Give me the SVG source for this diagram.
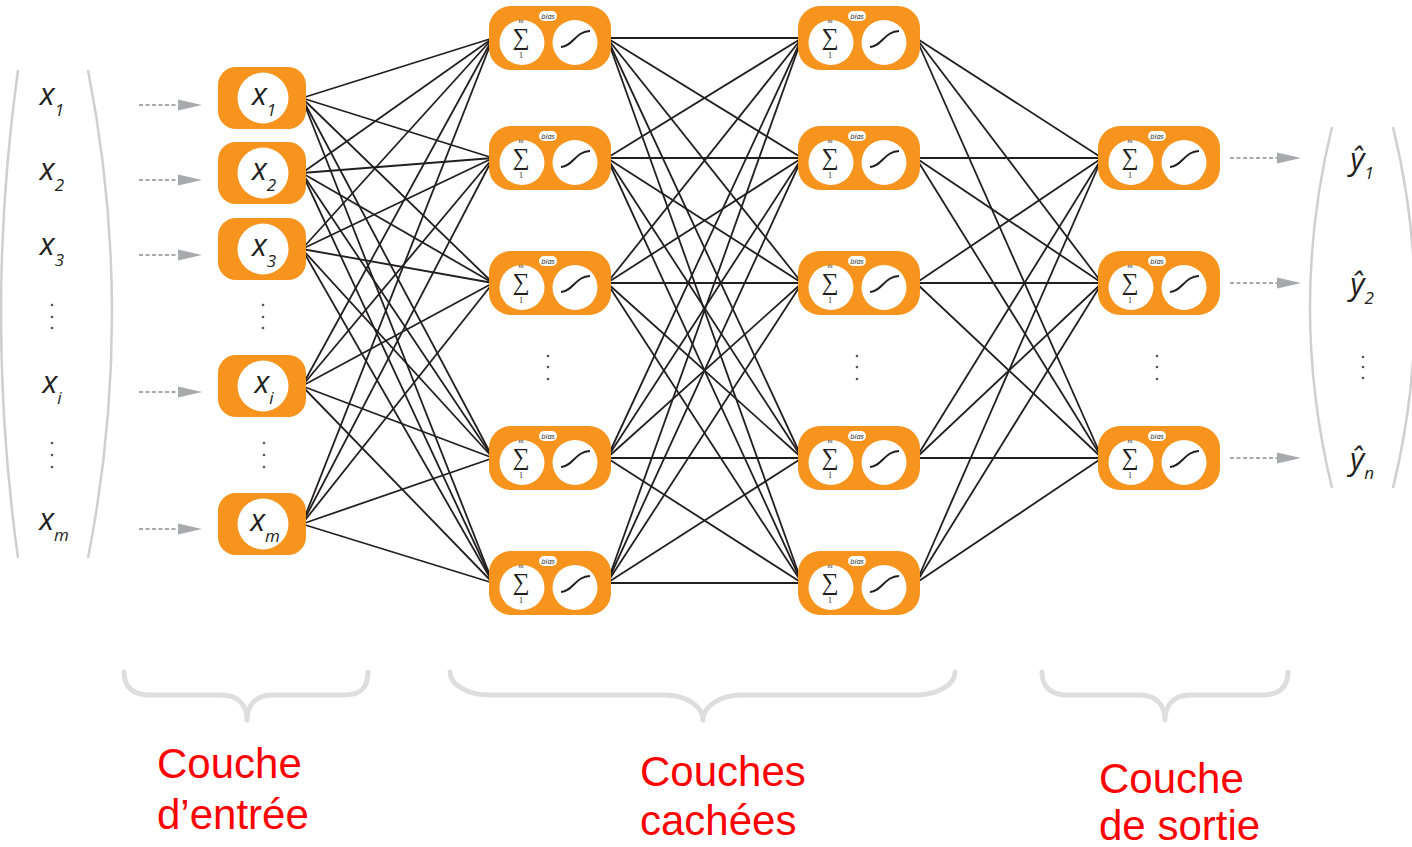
<svg xmlns="http://www.w3.org/2000/svg" xmlns:xlink="http://www.w3.org/1999/xlink" width="1412" height="847" viewBox="0 0 1412 847">
  <style>
    .var { font-family: "Open Sans", "Liberation Sans", sans-serif; font-style: italic; font-size: 31px; fill: #231f20; }
    .sub { font-size: 17px; }
    .caption { font-family: "Liberation Sans", Arial, sans-serif; font-size: 42px; fill: #ff0000; }
    .bracket { fill: none; stroke: #cfcfcf; stroke-width: 2.5; }
    .brace { fill: none; stroke: #dedede; stroke-width: 5; stroke-linecap: round; stroke-linejoin: round; }
    .edge { stroke: #231f20; stroke-width: 1.8; }
    .feed { stroke: #a7a9ac; stroke-width: 2; stroke-dasharray: 4 2.5; }
    .dot { fill: #555; }
  </style>
  <defs>
    <g id="input-cell">
      <rect x="-44" y="-31" width="88" height="62" rx="18" fill="#f7941d"/>
      <circle cx="1" cy="0" r="25.5" fill="#fff"/>
    </g>
    <g id="neuron">
      <rect x="-61" y="-32" width="122" height="64" rx="22" fill="#f7941d"/>
      <circle cx="-28" cy="4.5" r="22.5" fill="#fff"/>
      <circle cx="25" cy="4.5" r="22.5" fill="#fff"/>
      <rect x="-11" y="-27" width="18" height="10" rx="5" fill="#fff"/>
      <text x="-2" y="-19.5" text-anchor="middle" font-family="Open Sans, sans-serif" font-style="italic" font-size="7.5" fill="#231f20">bias</text>
      <text x="-29" y="-15" text-anchor="middle" font-family="Liberation Serif, serif" font-style="italic" font-size="7" fill="#231f20">m</text>
      <text x="-29" y="7" text-anchor="middle" font-family="Liberation Serif, serif" font-size="24" fill="#231f20">∑</text>
      <text x="-29" y="20" text-anchor="middle" font-family="Liberation Serif, serif" font-size="8" fill="#231f20">1</text>
      <path d="M11,9 C22,9 26,-7 40,-7" fill="none" stroke="#231f20" stroke-width="2"/>
    </g>
    <path id="feed-head" d="M0,-5.5 L24,0 L0,5.5 Z" fill="#a7a9ac"/>
  </defs>

  <!-- input vector and its brackets -->
  <g id="input-vector">
    <path class="bracket" d="M18,70 Q-16,314 18,558"/>
    <path class="bracket" d="M88,70 Q136,314 88,558"/>
    <text class="var" x="52" y="105" text-anchor="middle">x<tspan class="sub" dy="11">1</tspan></text>
    <text class="var" x="52" y="180" text-anchor="middle">x<tspan class="sub" dy="11">2</tspan></text>
    <text class="var" x="52" y="255" text-anchor="middle">x<tspan class="sub" dy="11">3</tspan></text>
    <text class="var" x="52" y="393" text-anchor="middle">x<tspan class="sub" dy="11">i</tspan></text>
    <text class="var" x="54" y="530" text-anchor="middle">x<tspan class="sub" dy="11">m</tspan></text>
    <circle class="dot" cx="52" cy="305" r="1.3"/><circle class="dot" cx="52" cy="317" r="1.3"/><circle class="dot" cx="52" cy="328" r="1.3"/>
    <circle class="dot" cx="52" cy="443" r="1.3"/><circle class="dot" cx="52" cy="455" r="1.3"/><circle class="dot" cx="52" cy="467" r="1.3"/>
  </g>

  <!-- dashed feeds into the input layer and out of the output layer -->
  <g id="feeds">
    <line class="feed" x1="139" y1="105" x2="178" y2="105"/><use xlink:href="#feed-head" x="178" y="105"/>
    <line class="feed" x1="139" y1="180" x2="178" y2="180"/><use xlink:href="#feed-head" x="178" y="180"/>
    <line class="feed" x1="139" y1="255" x2="178" y2="255"/><use xlink:href="#feed-head" x="178" y="255"/>
    <line class="feed" x1="139" y1="392" x2="178" y2="392"/><use xlink:href="#feed-head" x="178" y="392"/>
    <line class="feed" x1="139" y1="529" x2="178" y2="529"/><use xlink:href="#feed-head" x="178" y="529"/>
    <line class="feed" x1="1230" y1="158" x2="1277" y2="158"/><use xlink:href="#feed-head" x="1277" y="158"/>
    <line class="feed" x1="1230" y1="283" x2="1277" y2="283"/><use xlink:href="#feed-head" x="1277" y="283"/>
    <line class="feed" x1="1230" y1="458" x2="1277" y2="458"/><use xlink:href="#feed-head" x="1277" y="458"/>
  </g>

  <!-- weighted connections between layers -->
  <g id="connectors">
    <!-- input -> hidden 1 -->
    <line class="edge" x1="302" y1="98" x2="493" y2="38"/><line class="edge" x1="302" y1="98" x2="493" y2="158"/><line class="edge" x1="302" y1="98" x2="493" y2="283"/><line class="edge" x1="302" y1="98" x2="493" y2="458"/><line class="edge" x1="302" y1="98" x2="493" y2="583"/>
    <line class="edge" x1="302" y1="173" x2="493" y2="38"/><line class="edge" x1="302" y1="173" x2="493" y2="158"/><line class="edge" x1="302" y1="173" x2="493" y2="283"/><line class="edge" x1="302" y1="173" x2="493" y2="458"/><line class="edge" x1="302" y1="173" x2="493" y2="583"/>
    <line class="edge" x1="302" y1="249" x2="493" y2="38"/><line class="edge" x1="302" y1="249" x2="493" y2="158"/><line class="edge" x1="302" y1="249" x2="493" y2="283"/><line class="edge" x1="302" y1="249" x2="493" y2="458"/><line class="edge" x1="302" y1="249" x2="493" y2="583"/>
    <line class="edge" x1="302" y1="386" x2="493" y2="38"/><line class="edge" x1="302" y1="386" x2="493" y2="158"/><line class="edge" x1="302" y1="386" x2="493" y2="283"/><line class="edge" x1="302" y1="386" x2="493" y2="458"/><line class="edge" x1="302" y1="386" x2="493" y2="583"/>
    <line class="edge" x1="302" y1="524" x2="493" y2="38"/><line class="edge" x1="302" y1="524" x2="493" y2="158"/><line class="edge" x1="302" y1="524" x2="493" y2="283"/><line class="edge" x1="302" y1="524" x2="493" y2="458"/><line class="edge" x1="302" y1="524" x2="493" y2="583"/>
    <!-- hidden 1 -> hidden 2 -->
    <line class="edge" x1="607" y1="38" x2="802" y2="38"/><line class="edge" x1="607" y1="38" x2="802" y2="158"/><line class="edge" x1="607" y1="38" x2="802" y2="283"/><line class="edge" x1="607" y1="38" x2="802" y2="458"/><line class="edge" x1="607" y1="38" x2="802" y2="583"/>
    <line class="edge" x1="607" y1="158" x2="802" y2="38"/><line class="edge" x1="607" y1="158" x2="802" y2="158"/><line class="edge" x1="607" y1="158" x2="802" y2="283"/><line class="edge" x1="607" y1="158" x2="802" y2="458"/><line class="edge" x1="607" y1="158" x2="802" y2="583"/>
    <line class="edge" x1="607" y1="283" x2="802" y2="38"/><line class="edge" x1="607" y1="283" x2="802" y2="158"/><line class="edge" x1="607" y1="283" x2="802" y2="283"/><line class="edge" x1="607" y1="283" x2="802" y2="458"/><line class="edge" x1="607" y1="283" x2="802" y2="583"/>
    <line class="edge" x1="607" y1="458" x2="802" y2="38"/><line class="edge" x1="607" y1="458" x2="802" y2="158"/><line class="edge" x1="607" y1="458" x2="802" y2="283"/><line class="edge" x1="607" y1="458" x2="802" y2="458"/><line class="edge" x1="607" y1="458" x2="802" y2="583"/>
    <line class="edge" x1="607" y1="583" x2="802" y2="38"/><line class="edge" x1="607" y1="583" x2="802" y2="158"/><line class="edge" x1="607" y1="583" x2="802" y2="283"/><line class="edge" x1="607" y1="583" x2="802" y2="458"/><line class="edge" x1="607" y1="583" x2="802" y2="583"/>
    <!-- hidden 2 -> output -->
    <line class="edge" x1="916" y1="38" x2="1102" y2="158"/><line class="edge" x1="916" y1="38" x2="1102" y2="283"/><line class="edge" x1="916" y1="38" x2="1102" y2="458"/>
    <line class="edge" x1="916" y1="158" x2="1102" y2="158"/><line class="edge" x1="916" y1="158" x2="1102" y2="283"/><line class="edge" x1="916" y1="158" x2="1102" y2="458"/>
    <line class="edge" x1="916" y1="283" x2="1102" y2="158"/><line class="edge" x1="916" y1="283" x2="1102" y2="283"/><line class="edge" x1="916" y1="283" x2="1102" y2="458"/>
    <line class="edge" x1="916" y1="458" x2="1102" y2="158"/><line class="edge" x1="916" y1="458" x2="1102" y2="283"/><line class="edge" x1="916" y1="458" x2="1102" y2="458"/>
    <line class="edge" x1="916" y1="583" x2="1102" y2="158"/><line class="edge" x1="916" y1="583" x2="1102" y2="283"/><line class="edge" x1="916" y1="583" x2="1102" y2="458"/>
  </g>

  <!-- input layer -->
  <g id="in-1" transform="translate(262,98)"><use xlink:href="#input-cell"/><text class="var" x="2" y="7" text-anchor="middle">x<tspan class="sub" dy="11">1</tspan></text></g>
  <g id="in-2" transform="translate(262,173)"><use xlink:href="#input-cell"/><text class="var" x="2" y="7" text-anchor="middle">x<tspan class="sub" dy="11">2</tspan></text></g>
  <g id="in-3" transform="translate(262,249)"><use xlink:href="#input-cell"/><text class="var" x="2" y="7" text-anchor="middle">x<tspan class="sub" dy="11">3</tspan></text></g>
  <g id="in-i" transform="translate(262,386)"><use xlink:href="#input-cell"/><text class="var" x="2" y="7" text-anchor="middle">x<tspan class="sub" dy="11">i</tspan></text></g>
  <g id="in-m" transform="translate(262,524)"><use xlink:href="#input-cell"/><text class="var" x="3" y="7" text-anchor="middle">x<tspan class="sub" dy="11">m</tspan></text></g>
  <g id="in-dots">
    <circle class="dot" cx="263" cy="305" r="1.3"/><circle class="dot" cx="263" cy="317" r="1.3"/><circle class="dot" cx="263" cy="328" r="1.3"/>
    <circle class="dot" cx="264" cy="443" r="1.3"/><circle class="dot" cx="264" cy="455" r="1.3"/><circle class="dot" cx="264" cy="467" r="1.3"/>
  </g>

  <!-- first hidden layer -->
  <g id="h1-1" transform="translate(550,38)"><use xlink:href="#neuron"/></g>
  <g id="h1-2" transform="translate(550,158)"><use xlink:href="#neuron"/></g>
  <g id="h1-3" transform="translate(550,283)"><use xlink:href="#neuron"/></g>
  <g id="h1-4" transform="translate(550,458)"><use xlink:href="#neuron"/></g>
  <g id="h1-5" transform="translate(550,583)"><use xlink:href="#neuron"/></g>
  <g id="h1-dots"><circle class="dot" cx="548" cy="356" r="1.3"/><circle class="dot" cx="548" cy="367" r="1.3"/><circle class="dot" cx="548" cy="379" r="1.3"/></g>

  <!-- second hidden layer -->
  <g id="h2-1" transform="translate(859,38)"><use xlink:href="#neuron"/></g>
  <g id="h2-2" transform="translate(859,158)"><use xlink:href="#neuron"/></g>
  <g id="h2-3" transform="translate(859,283)"><use xlink:href="#neuron"/></g>
  <g id="h2-4" transform="translate(859,458)"><use xlink:href="#neuron"/></g>
  <g id="h2-5" transform="translate(859,583)"><use xlink:href="#neuron"/></g>
  <g id="h2-dots"><circle class="dot" cx="857" cy="356" r="1.3"/><circle class="dot" cx="857" cy="367" r="1.3"/><circle class="dot" cx="857" cy="379" r="1.3"/></g>

  <!-- output layer -->
  <g id="out-1" transform="translate(1159,158)"><use xlink:href="#neuron"/></g>
  <g id="out-2" transform="translate(1159,283)"><use xlink:href="#neuron"/></g>
  <g id="out-n" transform="translate(1159,458)"><use xlink:href="#neuron"/></g>
  <g id="out-dots"><circle class="dot" cx="1157" cy="356" r="1.3"/><circle class="dot" cx="1157" cy="367" r="1.3"/><circle class="dot" cx="1157" cy="379" r="1.3"/></g>

  <!-- output vector and its brackets -->
  <g id="output-vector">
    <path class="bracket" d="M1332,127 Q1288,307 1332,488"/>
    <path class="bracket" d="M1393,127 Q1437,307 1393,488"/>
    <text class="var" x="1362" y="170" text-anchor="middle">ŷ<tspan class="sub" dy="9">1</tspan></text>
    <text class="var" x="1362" y="295" text-anchor="middle">ŷ<tspan class="sub" dy="9">2</tspan></text>
    <text class="var" x="1362" y="470" text-anchor="middle">ŷ<tspan class="sub" dy="9">n</tspan></text>
    <circle class="dot" cx="1363" cy="357" r="1.3"/><circle class="dot" cx="1363" cy="367" r="1.3"/><circle class="dot" cx="1363" cy="378" r="1.3"/>
  </g>

  <!-- layer braces -->
  <g id="braces">
    <path class="brace" d="M124,672 C124,688 134,695 150,695 L222,695 C238,695 247,705 247,720 C247,705 256,695 272,695 L344,695 C360,695 368,688 368,672"/>
    <path class="brace" d="M450,672 C450,685 468,695 490,695 L665,695 C685,695 703,706 703,720 C703,706 721,695 741,695 L915,695 C937,695 955,685 955,672"/>
    <path class="brace" d="M1042,672 C1042,688 1052,695 1068,695 L1140,695 C1156,695 1165,705 1165,720 C1165,705 1174,695 1190,695 L1262,695 C1278,695 1288,688 1288,672"/>
  </g>

  <!-- captions -->
  <g id="captions">
    <text class="caption" x="157" y="778">Couche</text>
    <text class="caption" x="157" y="829">d’entrée</text>
    <text class="caption" x="640" y="786">Couches</text>
    <text class="caption" x="640" y="835">cachées</text>
    <text class="caption" x="1099" y="793">Couche</text>
    <text class="caption" x="1099" y="840">de sortie</text>
  </g>
</svg>
